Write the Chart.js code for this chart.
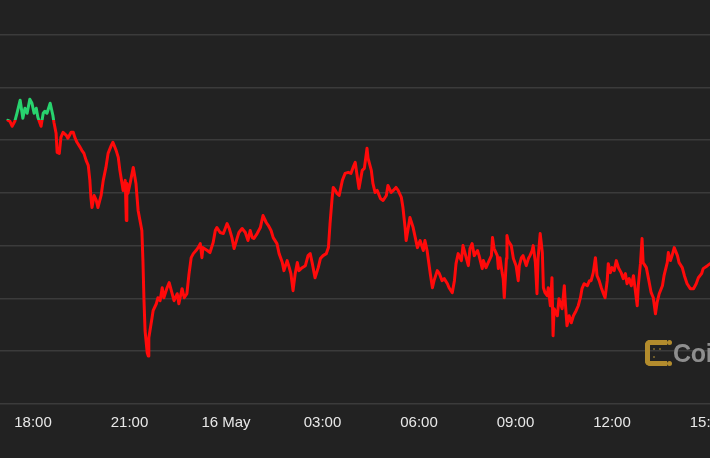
<!DOCTYPE html>
<html>
<head>
<meta charset="utf-8">
<script src="https://cdn.jsdelivr.net/npm/chart.js@4.4.1/dist/chart.umd.min.js"></script>
<style>
  html, body { margin:0; padding:0; background:#222222; overflow:hidden; width:710px; height:458px; }
  #wrap { position:absolute; left:0; top:0; width:760px; height:458px; }
  #mark { position:absolute; left:645px; top:340px; height:26px; display:flex; align-items:center; white-space:nowrap; }
  .icon { position:relative; width:17px; height:16px; border:5px solid #b38c2d; border-right:none; border-radius:5px 0 0 5px; }
  .icon::before, .icon::after { content:""; position:absolute; right:-5px; width:5px; height:5px; border-radius:50%; background:#b38c2d; }
  .icon::before { top:-5px; }
  .icon::after { bottom:-5px; }
  .dot { position:absolute; width:2px; height:2px; background:#6b5a2c; }
  .mtext { font-family:'Liberation Sans', Arial, sans-serif; font-weight:bold; font-size:25px; color:#8e8e8e; margin-left:6px; letter-spacing:-0.3px; }
</style>
</head>
<body>
<div id="wrap"><canvas id="c" width="760" height="458"></canvas></div>
<div id="mark"><div class="icon"><span class="dot" style="left:3px;top:3px"></span><span class="dot" style="left:3px;top:11px"></span><span class="dot" style="left:9px;top:3px"></span></div><span class="mtext">CoinDesk</span></div>
<script>
// minutes since 15 May 00:00
const times = [
1033,1037,1041,1046,1050,1056,1061,1065,1069,1074,
1078,1082,1086,1089,1095,1099,1102,1106,1112,1117,
1119,1123,1125,1129,1132,1136,1142,1145,1151,1155,
1158,1162,1168,1171,1175,1179,1183,1186,1188,1190,
1194,1198,1201,1207,1211,1216,1220,1226,1229,1235,
1239,1242,1246,1248,1252,1254,1255,1257,1261,1267,
1272,1276,1283,1285,1287,1289,1293,1295,1296,1302,
1304,1310,1313,1317,1321,1324,1330,1334,1339,1343,
1349,1352,1358,1362,1367,1371,1375,1379,1384,1388,
1392,1395,1397,1405,1410,1416,1420,1423,1429,1435,
1442,1446,1451,1455,1461,1464,1470,1476,1481,1485,
1489,1492,1498,1504,1509,1515,1519,1524,1528,1535,
1539,1545,1548,1554,1558,1561,1565,1569,1573,1576,
1582,1588,1593,1597,1601,1606,1612,1616,1621,1627,
1631,1634,1638,1640,1644,1647,1651,1657,1662,1668,
1673,1677,1681,1685,1688,1694,1698,1703,1705,1711,
1714,1718,1722,1728,1733,1739,1742,1748,1752,1757,
1761,1767,1770,1774,1776,1780,1783,1789,1793,1797,
1802,1808,1811,1815,1821,1825,1828,1834,1838,1843,
1847,1853,1856,1862,1866,1869,1873,1879,1882,1886,
1892,1895,1899,1903,1909,1912,1918,1920,1925,1929,
1935,1937,1940,1946,1948,1951,1955,1957,1959,1963,
1964,1966,1972,1976,1981,1985,1987,1991,1994,2000,
2004,2007,2011,2013,2017,2020,2022,2026,2030,2032,
2035,2039,2041,2045,2048,2050,2052,2058,2061,2067,
2071,2073,2076,2080,2084,2088,2093,2097,2101,2104,
2108,2114,2118,2121,2125,2129,2132,2136,2140,2144,
2147,2151,2153,2157,2160,2164,2168,2172,2177,2181,
2185,2188,2192,2196,2200,2203,2207,2209,2213,2216,
2218,2224,2228,2233,2237,2241,2244,2248,2254,2257,
2263,2265,2269,2272,2276,2282,2285,2291,2295,2300,
2306,2312,2317,2321,2327,2330,2338,2343
];
const prices = [
49689,49679,49632,49679,49755,49879,49708,49803,49755,49888,
49850,49755,49803,49717,49632,49755,49774,49755,49850,49736,
49670,49565,49385,49375,49527,49575,49546,49518,49575,49575,
49527,49480,49432,49404,49375,49309,49261,49119,48957,48862,
48976,48929,48862,48976,49119,49242,49375,49451,49480,49404,
49337,49214,49090,49024,49119,48739,49090,48995,49090,49242,
49090,48834,48644,48359,47979,47694,47485,47456,47627,47817,
47884,47950,48007,47979,48102,48007,48102,48150,48055,47979,
48045,47950,48093,48007,48045,48235,48387,48425,48454,48482,
48520,48387,48482,48454,48435,48530,48644,48672,48625,48615,
48710,48663,48577,48473,48577,48625,48663,48625,48549,48644,
48577,48568,48615,48672,48786,48720,48691,48644,48577,48520,
48425,48340,48264,48359,48292,48235,48074,48235,48340,48264,
48292,48311,48406,48425,48330,48197,48292,48378,48406,48425,
48482,48710,48957,49052,49024,48995,48976,49119,49185,49195,
49185,49242,49290,49147,49043,49214,49233,49423,49328,49214,
49090,49005,49024,48948,48929,48976,49071,49005,49024,49052,
49024,48957,48862,48672,48549,48672,48767,48672,48577,48482,
48549,48454,48549,48454,48235,48102,48169,48264,48235,48169,
48188,48140,48102,48055,48169,48330,48425,48359,48501,48425,
48311,48473,48520,48406,48454,48406,48283,48359,48292,48340,
48406,48577,48473,48406,48283,48387,48245,48188,48007,48378,
48596,48549,48501,48378,48311,48169,48311,48387,48406,48311,
48378,48406,48454,48501,48340,48045,48378,48615,48435,48102,
48055,48026,48102,47931,48197,47646,47903,47836,47998,47903,
48121,47950,47741,47836,47770,47836,47884,47931,48007,48093,
48140,48121,48169,48169,48245,48387,48216,48169,48102,48045,
48007,48169,48330,48245,48292,48264,48359,48292,48245,48188,
48235,48140,48188,48121,48216,48093,47931,48121,48330,48568,
48340,48292,48188,48055,48007,47855,47960,48045,48121,48216,
48340,48435,48359,48406,48482,48406,48340,48292,48216,48140,
48093,48093,48140,48197,48235,48283,48311,48330
];
const tickMinutes = [1080, 1260, 1440, 1620, 1800, 1980, 2160, 2340];
const tickLabels  = ['18:00', '21:00', '16 May', '03:00', '06:00', '09:00', '12:00', '15:00'];
const gridPrices  = [47000, 47500, 48000, 48500, 49000, 49500, 50000, 50500];

const openPrice = prices[0];
const UP = '#28d36e', DOWN = '#ff0a0a';

const points = times.map((t, i) => ({ x: t, y: prices[i] }));

function lineColor(ctx) {
  const chart = ctx.chart;
  const area = chart.chartArea;
  if (!area) return DOWN;
  const yb = chart.scales.y.getPixelForValue(openPrice);
  let f = (yb - area.top) / (area.bottom - area.top);
  f = Math.min(Math.max(f, 0), 1);
  const g = chart.ctx.createLinearGradient(0, area.top, 0, area.bottom);
  g.addColorStop(0, UP);
  g.addColorStop(f, UP);
  g.addColorStop(f, DOWN);
  g.addColorStop(1, DOWN);
  return g;
}

new Chart(document.getElementById('c'), {
  type: 'line',
  data: {
    datasets: [{
      data: points,
      borderColor: lineColor,
      borderWidth: 3,
      pointRadius: 0,
      tension: 0,
      fill: false,
      borderJoinStyle: 'round',
      borderCapStyle: 'round'
    }]
  },
  options: {
    responsive: false,
    animation: false,
    devicePixelRatio: 1,
    layout: { padding: { top: 0, left: 0, right: 0, bottom: 16 } },
    plugins: { legend: { display: false }, tooltip: { enabled: false } },
    scales: {
      x: {
        type: 'linear',
        min: 1018.4,
        max: 2436,
        afterBuildTicks: (s) => { s.ticks = tickMinutes.map(v => ({ value: v })); },
        grid: { display: false, drawTicks: false },
        border: { display: false },
        ticks: {
          color: '#e8e8e8',
          font: { family: "'Liberation Sans', Arial, sans-serif", size: 15 },
          padding: 10,
          maxRotation: 0,
          autoSkip: false,
          callback: (v) => { const i = tickMinutes.indexOf(v); return i >= 0 ? tickLabels[i] : ''; }
        }
      },
      y: {
        type: 'linear',
        min: 47000,
        max: 50828.5,
        afterBuildTicks: (s) => { s.ticks = gridPrices.map(v => ({ value: v })); },
        grid: { color: '#3b3b3b', lineWidth: 1.6, drawTicks: false },
        border: { display: false },
        ticks: { display: false }
      }
    }
  }
});
</script>
</body>
</html>
